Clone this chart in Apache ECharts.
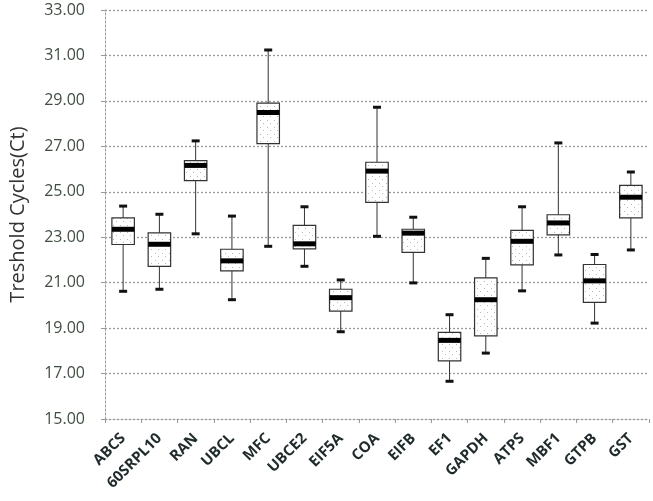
<!DOCTYPE html>
<html>
<head>
<meta charset="utf-8">
<script src="https://cdn.jsdelivr.net/npm/echarts@6/dist/echarts.min.js"></script>
<style>html,body{margin:0;padding:0;background:#fff;}#c{width:653px;height:501px;}</style>
</head>
<body>
<div id="c"></div>
<script>
const categories = ['ABCS','60SRPL10','RAN','UBCL','MFC','UBCE2','EIF5A','COA','EIFB','EF1','GAPDH','ATPS','MBF1','GTPB','GST'];
const whiskerLow = [20.62,20.71,23.15,20.25,22.60,21.72,18.84,23.04,20.99,16.66,17.90,20.64,22.22,19.22,22.44];
const q1        = [22.68,21.72,25.49,21.52,27.12,22.49,19.75,24.53,22.33,17.56,18.66,21.78,23.10,20.13,23.85];
const median    = [23.35,22.69,26.16,21.96,28.49,22.71,20.34,25.91,23.18,18.46,20.25,22.82,23.63,21.08,24.76];
const q3        = [23.85,23.19,26.37,22.47,28.90,23.52,20.71,26.30,23.35,18.81,21.21,23.30,23.99,21.80,25.28];
const whiskerHigh=[24.37,24.01,27.24,23.93,31.24,24.34,21.12,28.72,23.88,19.59,22.07,24.34,27.15,22.24,25.87];
const yTicks = {min:15, max:33, interval:2};

const data = categories.map((c,i)=>[i, whiskerLow[i], q1[i], median[i], q3[i], whiskerHigh[i]]);

// dotted fill pattern
const pc = document.createElement('canvas');
pc.width = 7; pc.height = 7;
const pctx = pc.getContext('2d');
pctx.fillStyle = '#fff'; pctx.fillRect(0,0,7,7);
pctx.fillStyle = '#b8b8b8';
pctx.fillRect(1,1,1,1); pctx.fillRect(4,4,1,1);

const chart = echarts.init(document.getElementById('c'), null, {renderer:'canvas'});
chart.setOption({
  animation:false,
  grid:{left:93, right:4, top:10, bottom:82},
  xAxis:{
    type:'category', data:categories, boundaryGap:true,
    axisLine:{lineStyle:{color:'#999', type:[2,2], width:1}},
    axisTick:{show:true, length:4, lineStyle:{color:'#999'}},
    axisLabel:{rotate:45, interval:0, fontFamily:'Open Sans', fontWeight:'bold', fontSize:15, color:'#1f2b2b', margin:17},
    splitLine:{show:false}
  },
  yAxis:{
    type:'value', min:yTicks.min, max:yTicks.max, interval:yTicks.interval,
    name:'Treshold Cycles(Ct)', nameLocation:'middle', nameGap:77,
    nameTextStyle:{fontFamily:'Open Sans', fontSize:20, color:'#333'},
    axisLine:{show:true, lineStyle:{color:'#999', type:[2,2], width:1}},
    axisTick:{show:true, inside:false, length:4, lineStyle:{color:'#999'}},
    axisLabel:{formatter:v=>v.toFixed(2), fontFamily:'Open Sans', fontSize:16, color:'#3f5040', margin:20},
    splitLine:{show:true, lineStyle:{color:'#999', type:[2,2], width:1.3}}
  },
  series:[{
    type:'custom',
    data:data,
    encode:{x:0, y:[1,2,3,4,5]},
    renderItem:function(params, api){
      const x = api.value(0);
      const pLow = api.coord([x, api.value(1)]);
      const pQ1 = api.coord([x, api.value(2)]);
      const pMed = api.coord([x, api.value(3)]);
      const pQ3 = api.coord([x, api.value(4)]);
      const pHigh = api.coord([x, api.value(5)]);
      const cx = pMed[0];
      const bw = api.size([1,0])[0];
      const hw = bw*0.31;
      const ch = 4;
      const ws = {stroke:'#333', lineWidth:1};
      return {type:'group', children:[
        {type:'line', shape:{x1:cx,y1:pHigh[1],x2:cx,y2:pQ3[1]}, style:ws},
        {type:'line', shape:{x1:cx,y1:pQ1[1],x2:cx,y2:pLow[1]}, style:ws},
        {type:'line', shape:{x1:cx-ch,y1:pHigh[1],x2:cx+ch,y2:pHigh[1]}, style:{stroke:'#111', lineWidth:3}},
        {type:'line', shape:{x1:cx-ch,y1:pLow[1],x2:cx+ch,y2:pLow[1]}, style:{stroke:'#111', lineWidth:3}},
        {type:'rect', shape:{x:cx-hw, y:pQ3[1], width:hw*2, height:pQ1[1]-pQ3[1]},
          style:{fill:{image:pc, repeat:'repeat'}, stroke:'#333', lineWidth:1.2}},
        {type:'rect', shape:{x:cx-hw, y:pMed[1]-2.5, width:hw*2, height:5}, style:{fill:'#000'}}
      ]};
    }
  }]
});
</script>
</body>
</html>
